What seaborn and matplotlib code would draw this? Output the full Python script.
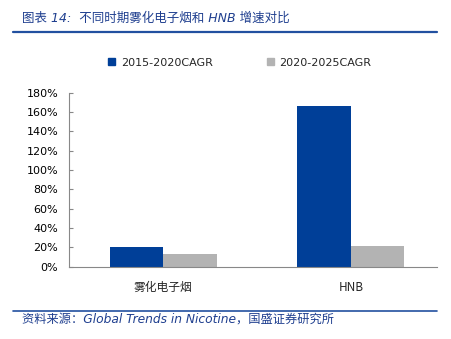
import matplotlib
matplotlib.use("Agg")
import matplotlib.pyplot as plt
import seaborn as sns
import pandas as pd
from matplotlib.lines import Line2D
from matplotlib.ticker import FuncFormatter, MultipleLocator, FixedLocator

sns.set_style("white")
plt.rcParams['font.family'] = ['DejaVu Sans', 'Noto Sans CJK SC']

categories = ["雾化电子烟", "HNB"]
series = ["2015-2020CAGR", "2020-2025CAGR"]
cagr_2015_2020 = [20.6, 165.8]
cagr_2020_2025 = [13.2, 21.5]

df = pd.DataFrame({
    "category": categories * 2,
    "series": [series[0]] * 2 + [series[1]] * 2,
    "value": cagr_2015_2020 + cagr_2020_2025,
})

blue = "#003F98"
grey = "#B3B3B3"
text_blue = "#1F3F8F"
axis_grey = "#888888"

fig = plt.figure(figsize=(4.51, 3.39), dpi=100)
ax = fig.add_axes([0.154, 0.2133, 0.815, 0.5137])

sns.barplot(data=df, x="category", y="value", hue="series",
            palette=[blue, grey], width=0.57, saturation=1,
            edgecolor="none", linewidth=0, ax=ax, legend=True)

ax.set_ylim(0, 180)
ax.set_xlim(-0.5, 1.46)
ax.yaxis.set_major_locator(MultipleLocator(20))
ax.yaxis.set_major_formatter(FuncFormatter(lambda v, p: f"{v:.0f}%"))
ax.set_xlabel("")
ax.set_ylabel("")

for s in ["top", "right"]:
    ax.spines[s].set_visible(False)
for s in ["left", "bottom"]:
    ax.spines[s].set_color(axis_grey)
    ax.spines[s].set_linewidth(0.8)

ax.tick_params(axis="y", direction="in", length=3, width=0.8, color=axis_grey,
               labelsize=8, pad=8, left=True, labelcolor="black")
ax.tick_params(axis="x", which="major", length=0, pad=10)
ax.xaxis.set_minor_locator(FixedLocator([0.5]))
ax.tick_params(axis="x", which="minor", direction="in", length=3, width=0.8,
               color=axis_grey)
for lbl in ax.get_xticklabels():
    lbl.set_fontfamily(['Noto Sans CJK SC', 'DejaVu Sans'])
    lbl.set_fontsize(8.5)

handles = [plt.Rectangle((0, 0), 1, 1, color=blue),
           plt.Rectangle((0, 0), 1, 1, color=grey)]
ax.legend(handles, series, loc="upper left", bbox_to_anchor=(0.094, 1.225),
          ncol=2, frameon=False, fontsize=8, handlelength=0.6, handleheight=0.6,
          handletextpad=0.5, columnspacing=4.9, borderaxespad=0)

# header and footer rules
fig.add_artist(Line2D([13 / 451, 437 / 451], [1 - 32 / 339] * 2, color="#2250A0",
                      linewidth=1.6, transform=fig.transFigure))
fig.add_artist(Line2D([13 / 451, 437 / 451], [1 - 311 / 339] * 2, color="#2250A0",
                      linewidth=1.2, transform=fig.transFigure))

fig.text(22 / 451, 1 - 18 / 339, "图表 14:  不同时期雾化电子烟和 HNB 增速对比",
         color=text_blue, fontsize=9, style="italic", va="center", ha="left",
         family=['DejaVu Sans', 'Noto Sans CJK SC'])
fig.text(22 / 451, 1 - 319 / 339, "资料来源：Global Trends in Nicotine，国盛证券研究所",
         color=text_blue, fontsize=8.8, style="italic", va="center", ha="left",
         family=['DejaVu Sans', 'Noto Sans CJK SC'])

fig.savefig("out.png", dpi=100)
